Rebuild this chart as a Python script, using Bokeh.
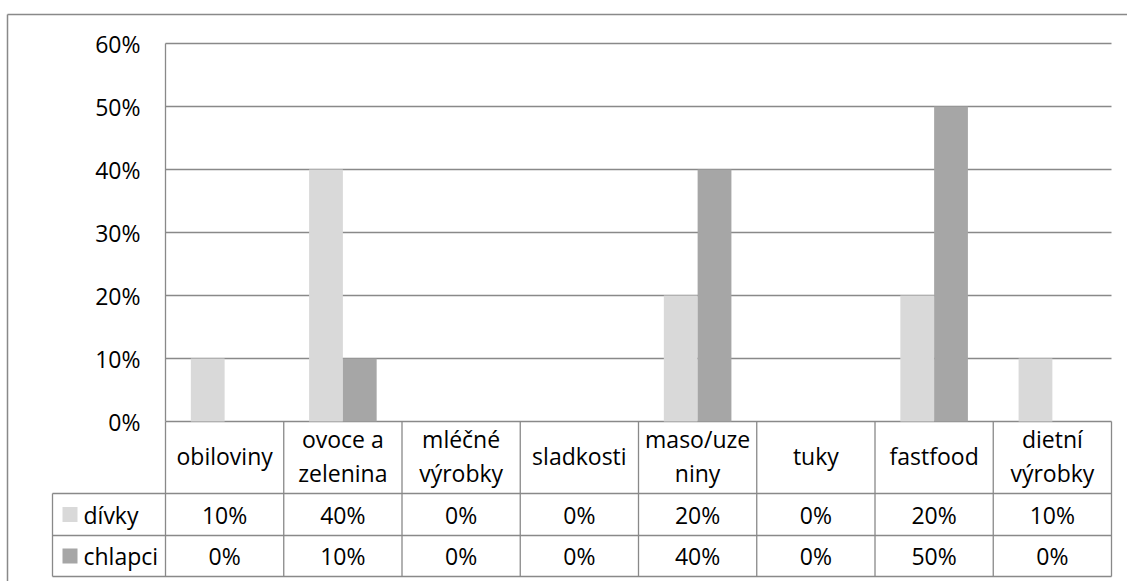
from bokeh.plotting import figure
from bokeh.models import Range1d
from bokeh.core.properties import value
from bokeh.embed import file_html
from bokeh.resources import INLINE

# --- data -------------------------------------------------------------
categories = ["obiloviny", "ovoce a\nzelenina", "mléčné\nvýrobky", "sladkosti",
              "maso/uze\nniny", "tuky", "fastfood", "dietní\nvýrobky"]
divky = [0.10, 0.40, 0.00, 0.00, 0.20, 0.00, 0.20, 0.10]
chlapci = [0.00, 0.10, 0.00, 0.00, 0.40, 0.00, 0.50, 0.00]
series_names = ["dívky", "chlapci"]
series_colors = ["#d9d9d9", "#a6a6a6"]
y_ticks = [0.0, 0.1, 0.2, 0.3, 0.4, 0.5, 0.6]


def pct(v):
    return f"{round(v * 100)}%"


tick_labels = [pct(t) for t in y_ticks]

# --- layout (pixels) --------------------------------------------------
W, H = 1127, 581
PLOT_LEFT = 165.0          # left edge of the plotting area
COL_W = 118.25             # width of one category column
ZERO_PY = 421.0            # pixel row of the 0 % line
PX_PER_UNIT = 630.0        # pixels per 100 %
ROW_LINES = [493.0, 535.0, 576.0]   # table row separators below the zero line
LEGEND_LEFT = 52.0
BORDER_X, BORDER_Y = 7.0, 14.0
FONT = value("Open Sans")
FS = "23px"
LINE = "#898989"


def X(px):
    return (px - PLOT_LEFT) / COL_W


def Y(py):
    return (ZERO_PY - py) / PX_PER_UNIT


n = len(categories)
p = figure(width=W, height=H, output_backend="svg", toolbar_location=None,
           x_range=Range1d(X(0), X(W)), y_range=Range1d(Y(H), Y(0)),
           x_axis_location=None, y_axis_location=None,
           min_border=0, min_border_left=0, min_border_right=0,
           min_border_top=0, min_border_bottom=0)
p.outline_line_color = None
p.background_fill_color = "white"
p.border_fill_color = "white"
p.xgrid.visible = False
p.ygrid.visible = False

x_end = n  # right edge of plotting area in category units

# outer frame (left and top edges)
p.segment(x0=[X(BORDER_X), X(BORDER_X)], y0=[Y(BORDER_Y), Y(BORDER_Y)],
          x1=[X(BORDER_X), X(W + 5)], y1=[Y(H + 5), Y(BORDER_Y)],
          line_color=LINE, line_width=1.5)

# horizontal gridlines
p.segment(x0=[0] * len(y_ticks), x1=[x_end] * len(y_ticks), y0=y_ticks, y1=y_ticks,
          line_color=LINE, line_width=1.3)
# value axis line
p.segment(x0=[0], x1=[0], y0=[0], y1=[max(y_ticks)], line_color=LINE, line_width=1.3)

# clustered bars, gap width 150 %
bw = 1 / 3.5
xs = list(range(n))
p.vbar(x=[i + 0.5 - bw / 2 for i in xs], top=divky, bottom=0, width=bw,
       fill_color=series_colors[0], line_color=None)
p.vbar(x=[i + 0.5 + bw / 2 for i in xs], top=chlapci, bottom=0, width=bw,
       fill_color=series_colors[1], line_color=None)

# y tick labels
p.text(x=[X(140)] * len(y_ticks), y=y_ticks, text=tick_labels,
       text_font=FONT, text_font_size=FS, text_align="right",
       text_baseline="middle", text_color="#000000")

# data table grid
row_y = [Y(r) for r in ROW_LINES]
p.segment(x0=[X(LEGEND_LEFT)] * len(row_y), x1=[x_end] * len(row_y),
          y0=row_y, y1=row_y, line_color=LINE, line_width=1.3)
p.segment(x0=list(range(n + 1)), x1=list(range(n + 1)),
          y0=[0] * (n + 1), y1=[row_y[-1]] * (n + 1), line_color=LINE, line_width=1.3)
p.segment(x0=[X(LEGEND_LEFT)], x1=[X(LEGEND_LEFT)], y0=[row_y[0]], y1=[row_y[-1]],
          line_color=LINE, line_width=1.3)

centers = [i + 0.5 for i in xs]
# category header row
p.text(x=centers, y=[(0 + row_y[0]) / 2 + 1.5 / PX_PER_UNIT] * n, text=categories,
       text_font=FONT, text_font_size=FS, text_align="center",
       text_baseline="middle", text_color="#000000", text_line_height=1.05)

# value rows with legend keys
for k, (vals, name, col) in enumerate(zip([divky, chlapci], series_names, series_colors)):
    top, bot = row_y[k], row_y[k + 1]
    mid = (top + bot) / 2
    p.text(x=centers, y=[mid] * n, text=[pct(v) for v in vals],
           text_font=FONT, text_font_size=FS, text_align="center",
           text_baseline="middle", text_color="#000000")
    half = 7.5 / PX_PER_UNIT
    p.quad(left=[X(62)], right=[X(77)], top=[mid + half], bottom=[mid - half],
           fill_color=col, line_color=None)
    p.text(x=[X(83)], y=[mid], text=[name], text_font=FONT, text_font_size=FS,
           text_align="left", text_baseline="middle", text_color="#000000")

open("out.html", "w").write(file_html(p, INLINE))
